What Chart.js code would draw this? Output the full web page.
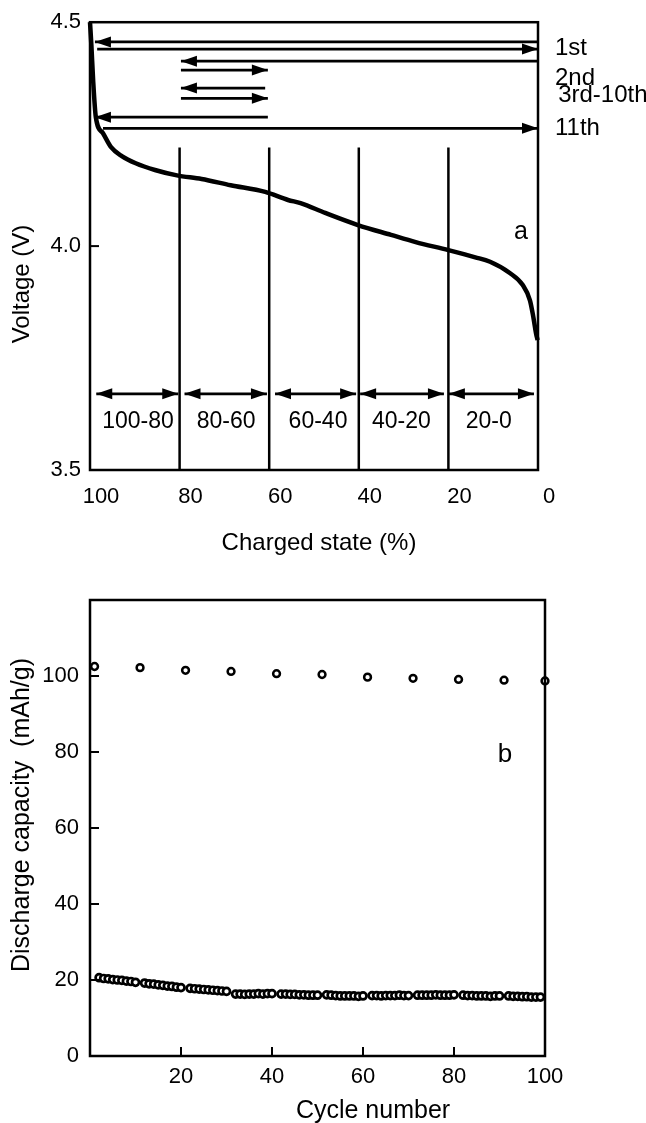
<!DOCTYPE html>
<html>
<head>
<meta charset="utf-8">
<script src="https://cdn.jsdelivr.net/npm/chart.js@4.4.1/dist/chart.umd.min.js"></script>
<style>
    body { margin: 0; background: #fff; }
    #wrap { position: relative; width: 646px; height: 1123px; }
    canvas { position: absolute; left: 0; }
    #voltage-chart { top: 0; }
    #capacity-chart { top: 560px; }
</style>
</head>
<body>
<div id="wrap">
    <canvas id="voltage-chart" width="646" height="560"></canvas>
    <canvas id="capacity-chart" width="646" height="563"></canvas>
</div>
<script>

// ---- (a) discharge curve ----
const chargedState = [100, 99.7, 99.3, 98.7, 97.1, 95.3, 92.9, 89.8, 85.5, 80.6, 75.1, 68.6, 60.9, 55.8,
    53.0, 47.5, 40.2, 32.8, 27.3, 20.0, 14.0, 10.7, 6.3, 3.4, 1.8, 1.05, 0.45, 0.1];
const voltage = [4.50, 4.45, 4.37, 4.288, 4.252, 4.221, 4.201, 4.185, 4.170, 4.158, 4.150, 4.136, 4.121, 4.103,
    4.096, 4.074, 4.047, 4.025, 4.009, 3.991, 3.975, 3.965, 3.940, 3.913, 3.879, 3.842, 3.806, 3.790];

// section boundaries (vertical lines) and their top voltage
const sectionBounds = [80, 60, 40, 20];
const sectionLineTop = 4.22;

// section double arrows [from, to] in %, at one voltage level
const sectionArrows = [[98.6, 80.3], [78.9, 60.5], [58.7, 40.6], [39.7, 21.0], [19.9, 0.9]];
const sectionArrowVoltage = 3.67;
const sectionLabels = ['100-80', '80-60', '60-40', '40-20', '20-0'];
const sectionLabelX = [89.3, 69.6, 49.1, 30.5, 11.0];
const sectionLabelVoltage = 3.607;

// cycle arrows: start %, end % (arrow head at end), voltage
const cycleArrowFrom = [0, 98.4, 0, 79.7, 60.9, 79.7, 60.3, 97.1];
const cycleArrowTo = [98.9, 0, 79.7, 60.3, 79.7, 60.3, 98.9, 0];
const cycleArrowVoltage = [4.456, 4.440, 4.413, 4.393, 4.353, 4.330, 4.288, 4.263];
const cycleLabels = ['1st', '2nd', '3rd-10th', '11th'];
const cycleLabelVoltage = [4.442, 4.375, 4.337, 4.263];

const voltageTicks = [3.5, 4.0, 4.5];
const chargedTicks = [100, 80, 60, 40, 20, 0];

// ---- (b) cycling ----
const fullCycles = [1, 11, 21, 31, 41, 51, 61, 71, 81, 91, 100];
const fullCapacity = [102.5, 102.2, 101.5, 101.2, 100.6, 100.4, 99.7, 99.4, 99.1, 98.9, 98.7];

const partialCycles = [
    2, 3, 4, 5, 6, 7, 8, 9, 10,
    12, 13, 14, 15, 16, 17, 18, 19, 20,
    22, 23, 24, 25, 26, 27, 28, 29, 30,
    32, 33, 34, 35, 36, 37, 38, 39, 40,
    42, 43, 44, 45, 46, 47, 48, 49, 50,
    52, 53, 54, 55, 56, 57, 58, 59, 60,
    62, 63, 64, 65, 66, 67, 68, 69, 70,
    72, 73, 74, 75, 76, 77, 78, 79, 80,
    82, 83, 84, 85, 86, 87, 88, 89, 90,
    92, 93, 94, 95, 96, 97, 98, 99];
const partialCapacity = [
    20.6, 20.4, 20.3, 20.1, 20.0, 19.9, 19.7, 19.6, 19.4,
    19.2, 19.0, 18.9, 18.7, 18.6, 18.4, 18.3, 18.1, 18.0,
    17.8, 17.7, 17.6, 17.5, 17.4, 17.3, 17.2, 17.1, 17.0,
    16.3, 16.3, 16.2, 16.3, 16.3, 16.4, 16.3, 16.4, 16.4,
    16.3, 16.3, 16.2, 16.2, 16.1, 16.1, 16.0, 16.0, 16.0,
    16.1, 16.0, 15.9, 15.8, 15.8, 15.8, 15.8, 15.7, 15.8,
    15.9, 15.9, 15.8, 15.9, 15.9, 15.9, 16.0, 15.9, 15.9,
    16.0, 16.0, 16.0, 16.0, 16.1, 16.0, 16.0, 16.0, 16.1,
    16.0, 15.9, 15.9, 15.8, 15.8, 15.8, 15.7, 15.8, 15.8,
    15.8, 15.7, 15.7, 15.6, 15.6, 15.5, 15.5, 15.5];

const capacityTicks = [0, 20, 40, 60, 80, 100];
const cycleTicks = [20, 40, 60, 80, 100];


const FONT = "'Liberation Sans', Arial, sans-serif";


function drawHead(ctx, fx, fy, tx, ty) {
    const a = Math.atan2(ty - fy, tx - fx);
    const len = 16, half = 5.5;
    ctx.beginPath();
    ctx.moveTo(tx, ty);
    ctx.lineTo(tx - len * Math.cos(a) + half * Math.sin(a), ty - len * Math.sin(a) - half * Math.cos(a));
    ctx.lineTo(tx - len * Math.cos(a) - half * Math.sin(a), ty - len * Math.sin(a) + half * Math.cos(a));
    ctx.closePath();
    ctx.fill();
}

// frame, inward ticks, arrow heads, annotations, axis titles
const decorPlugin = {
    id: 'decor',
    afterDatasetsDraw(chart, args, opts) {
        const ctx = chart.ctx;
        const area = chart.chartArea;
        const xs = chart.scales.x, ys = chart.scales.y;
        ctx.save();
        ctx.strokeStyle = '#000';
        ctx.fillStyle = '#000';

        ctx.lineWidth = 2.5;
        ctx.strokeRect(area.left, area.top, area.right - area.left, area.bottom - area.top);

        ctx.lineWidth = 2;
        (opts.ticksY || []).forEach(v => {
            const y = ys.getPixelForValue(v);
            ctx.beginPath(); ctx.moveTo(area.left, y); ctx.lineTo(area.left + 9, y); ctx.stroke();
        });
        (opts.ticksX || []).forEach(v => {
            const x = xs.getPixelForValue(v);
            ctx.beginPath(); ctx.moveTo(x, area.bottom); ctx.lineTo(x, area.bottom - 9); ctx.stroke();
        });

        chart.data.datasets.forEach((ds, i) => {
            if (!ds.heads) return;
            const pts = chart.getDatasetMeta(i).data;
            ds.heads.forEach(end => {
                const tip = end === 'end' ? pts[pts.length - 1] : pts[0];
                const tail = end === 'end' ? pts[pts.length - 2] : pts[1];
                drawHead(ctx, tail.x, tail.y, tip.x, tip.y);
            });
        });

        ctx.textBaseline = 'middle';
        (opts.texts || []).forEach(t => {
            ctx.font = t.size + 'px ' + FONT;
            ctx.textAlign = t.align || 'center';
            ctx.fillText(t.text, xs.getPixelForValue(t.x), ys.getPixelForValue(t.y));
        });

        (opts.titles || []).forEach(t => {
            ctx.save();
            ctx.font = t.size + 'px ' + FONT;
            ctx.textAlign = 'center';
            ctx.translate(t.px, t.py);
            if (t.rotate) ctx.rotate(-Math.PI / 2);
            ctx.fillText(t.text, 0, 0);
            ctx.restore();
        });
        ctx.restore();
    }
};


function segment(x1, y1, x2, y2, width, heads) {
    return {
        data: [{x: x1, y: y1}, {x: x2, y: y2}],
        showLine: true,
        borderColor: '#000',
        borderWidth: width,
        pointRadius: 0,
        clip: false,
        heads: heads
    };
}


function buildVoltageChart() {
    let datasets = [];

    datasets.push({
        data: chargedState.map((c, i) => ({x: c, y: voltage[i]})),
        showLine: true,
        borderColor: '#000',
        borderWidth: 4.5,
        pointRadius: 0,
        cubicInterpolationMode: 'monotone',
        clip: false
    });

    sectionBounds.forEach(b => datasets.push(segment(b, 3.5, b, sectionLineTop, 2.5)));

    sectionArrows.forEach(a => datasets.push(
        segment(a[0], sectionArrowVoltage, a[1], sectionArrowVoltage, 2.8, ['start', 'end'])));

    cycleArrowFrom.forEach((f, i) => datasets.push(
        segment(f, cycleArrowVoltage[i], cycleArrowTo[i], cycleArrowVoltage[i], 2.8, ['end'])));

    let texts = sectionLabels.map((s, i) => ({text: s, x: sectionLabelX[i], y: sectionLabelVoltage, size: 23}));
    cycleLabels.forEach((s, i) => texts.push({
        text: s, x: i === 2 ? -4.5 : -3.8, y: cycleLabelVoltage[i], size: 24, align: 'left'
    }));
    texts.push({text: 'a', x: 3.8, y: 4.031, size: 25});

    new Chart(document.getElementById('voltage-chart'), {
        type: 'scatter',
        data: {datasets: datasets},
        options: {
            responsive: false,
            animation: false,
            layout: {padding: {left: 0, right: 108, top: 22, bottom: 0}},
            plugins: {
                legend: {display: false},
                tooltip: {enabled: false},
                decor: {
                    ticksY: [4.0],
                    texts: texts,
                    titles: [
                        {text: 'Charged state (%)', px: 319, py: 543, size: 24},
                        {text: 'Voltage (V)', px: 22, py: 284, size: 24, rotate: true}
                    ]
                }
            },
            scales: {
                x: {
                    type: 'linear', reverse: true, min: 0, max: 100,
                    afterFit: s => { s.height = 90; },
                    afterBuildTicks: s => { s.ticks = chargedTicks.map(v => ({value: v})); },
                    grid: {display: false, drawTicks: false},
                    border: {display: false},
                    ticks: {autoSkip: false, maxRotation: 0, padding: 14, labelOffset: 11, color: '#000',
                        font: {family: FONT, size: 22}}
                },
                y: {
                    min: 3.5, max: 4.5,
                    afterFit: s => { s.width = 90; },
                    afterBuildTicks: s => { s.ticks = voltageTicks.map(v => ({value: v})); },
                    grid: {display: false, drawTicks: false},
                    border: {display: false},
                    ticks: {padding: 9, color: '#000', font: {family: FONT, size: 22},
                        callback: v => v.toFixed(1)}
                }
            }
        },
        plugins: [decorPlugin]
    });
}


function buildCapacityChart() {
    const marker = {
        showLine: false,
        pointStyle: 'circle',
        pointBackgroundColor: '#fff',
        pointBorderColor: '#000',
        clip: false
    };

    new Chart(document.getElementById('capacity-chart'), {
        type: 'scatter',
        data: {
            datasets: [
                Object.assign({
                    data: partialCycles.map((c, i) => ({x: c, y: partialCapacity[i]})),
                    pointRadius: 3.5, pointBorderWidth: 2.7
                }, marker),
                Object.assign({
                    data: fullCycles.map((c, i) => ({x: c, y: fullCapacity[i]})),
                    pointRadius: 3.4, pointBorderWidth: 2.5
                }, marker)
            ]
        },
        options: {
            responsive: false,
            animation: false,
            layout: {padding: {left: 0, right: 101, top: 40, bottom: 0}},
            plugins: {
                legend: {display: false},
                tooltip: {enabled: false},
                decor: {
                    ticksY: [20, 40, 60, 80, 100],
                    ticksX: cycleTicks,
                    texts: [{text: 'b', x: 91.2, y: 79.2, size: 26}],
                    titles: [
                        {text: 'Cycle number', px: 373, py: 551, size: 25},
                        {text: 'Discharge capacity  (mAh/g)', px: 22, py: 255, size: 25, rotate: true}
                    ]
                }
            },
            scales: {
                x: {
                    type: 'linear', min: 0, max: 100,
                    afterFit: s => { s.height = 67; },
                    afterBuildTicks: s => { s.ticks = cycleTicks.map(v => ({value: v})); },
                    grid: {display: false, drawTicks: false},
                    border: {display: false},
                    ticks: {autoSkip: false, maxRotation: 0, padding: 8, color: '#000',
                        font: {family: FONT, size: 22}}
                },
                y: {
                    min: 0, max: 120,
                    afterFit: s => { s.width = 90; },
                    afterBuildTicks: s => { s.ticks = capacityTicks.map(v => ({value: v})); },
                    grid: {display: false, drawTicks: false},
                    border: {display: false},
                    ticks: {padding: 11, color: '#000', font: {family: FONT, size: 22}}
                }
            }
        },
        plugins: [decorPlugin]
    });
}


buildVoltageChart();
buildCapacityChart();

</script>
</body>
</html>
